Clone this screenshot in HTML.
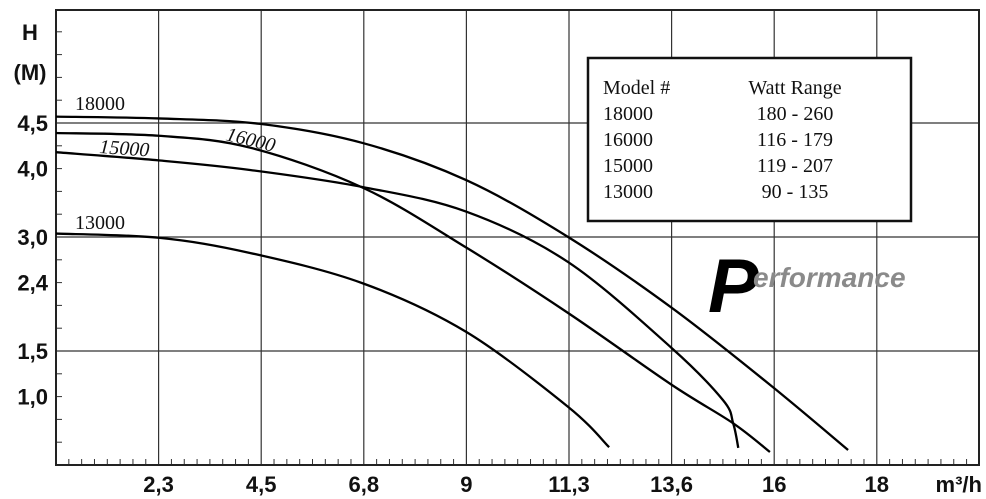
<!DOCTYPE html>
<html><head><meta charset="utf-8"><style>
html,body{margin:0;padding:0;background:#fff;}
svg{display:block;}
.tk{font-family:"Liberation Sans",sans-serif;font-weight:bold;font-size:22px;fill:#111;}
.sr{font-family:"Liberation Serif",serif;font-size:20px;fill:#111;}
</style></head><body>
<svg id="chart" width="986" height="499" viewBox="0 0 986 499">
<g id="grid"></g>
<g id="curves"></g>
<g id="labels"></g>
<text class="tk" x="30" y="40" text-anchor="middle" font-size="26">H</text>
<text class="tk" x="30" y="80" text-anchor="middle" font-size="25">(M)</text>
<text class="tk" x="982" y="492" text-anchor="end">m³/h</text>
<text class="sr" x="75" y="110">18000</text>
<text class="sr" x="225" y="140" transform="rotate(14 225 140)" font-style="italic">16000</text>
<text class="sr" x="99" y="153" transform="rotate(4 99 153)" font-style="italic">15000</text>
<text class="sr" x="75" y="229">13000</text>
<g>
<rect x="588" y="58" width="323" height="163" fill="#fff" stroke="#111" stroke-width="2.5"/>
<text class="sr" x="603" y="94">Model #</text>
<text class="sr" x="795" y="94" text-anchor="middle">Watt Range</text>
<text class="sr" x="603" y="120">18000</text>
<text class="sr" x="795" y="120" text-anchor="middle">180 - 260</text>
<text class="sr" x="603" y="146">16000</text>
<text class="sr" x="795" y="146" text-anchor="middle">116 - 179</text>
<text class="sr" x="603" y="172">15000</text>
<text class="sr" x="795" y="172" text-anchor="middle">119 - 207</text>
<text class="sr" x="603" y="198">13000</text>
<text class="sr" x="795" y="198" text-anchor="middle">90 - 135</text>
</g>
<g>
<text x="708" y="312" font-family="Liberation Sans,sans-serif" font-weight="bold" font-style="italic" font-size="76" fill="#000">P</text>
<text x="753" y="287" font-family="Liberation Sans,sans-serif" font-weight="bold" font-style="italic" font-size="28" fill="#8a8a8a">erformance</text>
</g>
</svg>
<script>
const xTickVals=[0,2.3,4.5,6.8,9,11.3,13.6,16,18,20];
const xTickLabels=["","2,3","4,5","6,8","9","11,3","13,6","16","18",""];
const yTickVals=[0,1.0,1.5,2.4,3.0,4.0,4.5,5.75];
const yTickIdx=[0,3,5,8,10,13,15,20];
const yTickLabels=["","1,0","1,5","2,4","3,0","4,0","4,5",""];
const q18000=[0,2.3,4.48,6.78,9.0,11.28,13.6,15.9,17.44];
const h18000=[4.57,4.55,4.49,4.28,3.83,3.0,2.07,1.13,0.22];
const q16000=[0,2.3,4.26,6.78,9.0,11.28,13.6,15.04,15.9];
const h16000=[4.39,4.36,4.23,3.72,2.86,2.0,1.13,0.61,0.19];
const q15000=[0,2.3,4.26,6.78,9.0,11.28,13.6,14.8,15.04,15.16];
const h15000=[4.18,4.09,3.98,3.73,3.37,2.67,1.54,0.95,0.61,0.25];
const q13000=[0,2.3,4.26,6.78,9.0,11.28,12.2];
const h13000=[3.05,2.99,2.79,2.39,1.75,0.85,0.26];

const L=56,R=979,T=10,B=465,XS=102.6,YS=22.8;
function interp(v,vals,idx){for(let i=0;i<vals.length-1;i++){if(v<=vals[i+1]||i==vals.length-2){return idx[i]+(v-vals[i])/(vals[i+1]-vals[i])*(idx[i+1]-idx[i]);}}}
const xIdx=xTickVals.map((_,i)=>i);
function xs(v){return L+interp(v,xTickVals,xIdx)*XS;}
function ys(v){return B-interp(v,yTickVals,yTickIdx)*YS;}
const NS="http://www.w3.org/2000/svg";
function mk(tag,attrs,parent){const e=document.createElementNS(NS,tag);for(const k in attrs)e.setAttribute(k,attrs[k]);parent.appendChild(e);return e;}
const grid=document.getElementById('grid'),lab=document.getElementById('labels'),cv=document.getElementById('curves');
for(let i=1;i<xTickVals.length-1;i++){
  const x=xs(xTickVals[i]);
  const g=mk('line',{x1:x,y1:T,x2:x,y2:B,stroke:'#333','stroke-width':1.2},grid);
  
  
  const t=mk('text',{x:x,y:492,'text-anchor':'middle',class:'tk'},lab);
  t.textContent=xTickLabels[i];
  
  
}
for(let k=1;k<9*8;k++){if(k%8==0)continue;const x=L+k*XS/8;
  const m=mk('line',{x1:x,y1:B,x2:x,y2:B-6,stroke:'#333','stroke-width':1},grid);
  
  }
for(let k=1;k<20;k++){const y=B-k*YS;
  const m=mk('line',{x1:L,y1:y,x2:L+6,y2:y,stroke:'#333','stroke-width':1},grid);
  
  }
[4.5,3.0,1.5].forEach(v=>{const y=ys(v);
  const g=mk('line',{x1:L,y1:y,x2:R,y2:y,stroke:'#333','stroke-width':1.2},grid);
  
  });
for(let i=1;i<yTickVals.length-1;i++){
  const t=mk('text',{x:48,y:ys(yTickVals[i])+8,'text-anchor':'end',class:'tk'},lab);
  t.textContent=yTickLabels[i];
  
  
}
const fr=mk('path',{d:`M${L},${T}H${R}V${B}H${L}Z`,fill:'none',stroke:'#222','stroke-width':2},grid);


function path(qs,hs){const p=qs.map((q,i)=>[xs(q),ys(hs[i])]);let d=`M${p[0][0]},${p[0][1]}`;
  for(let i=0;i<p.length-1;i++){const p0=p[Math.max(0,i-1)],p1=p[i],p2=p[i+1],p3=p[Math.min(p.length-1,i+2)];
    const c1=[p1[0]+(p2[0]-p0[0])/6,p1[1]+(p2[1]-p0[1])/6],c2=[p2[0]-(p3[0]-p1[0])/6,p2[1]-(p3[1]-p1[1])/6];
    d+=`C${c1[0]},${c1[1]} ${c2[0]},${c2[1]} ${p2[0]},${p2[1]}`;}return d;}
[[q18000,h18000,'curve-18000'],[q16000,h16000,'curve-16000'],[q15000,h15000,'curve-15000'],[q13000,h13000,'curve-13000']].forEach(s=>{
  const e=mk('path',{d:path(s[0],s[1]),fill:'none',stroke:'#000','stroke-width':2.3},cv);
  
  
});
</script>
</body></html>
